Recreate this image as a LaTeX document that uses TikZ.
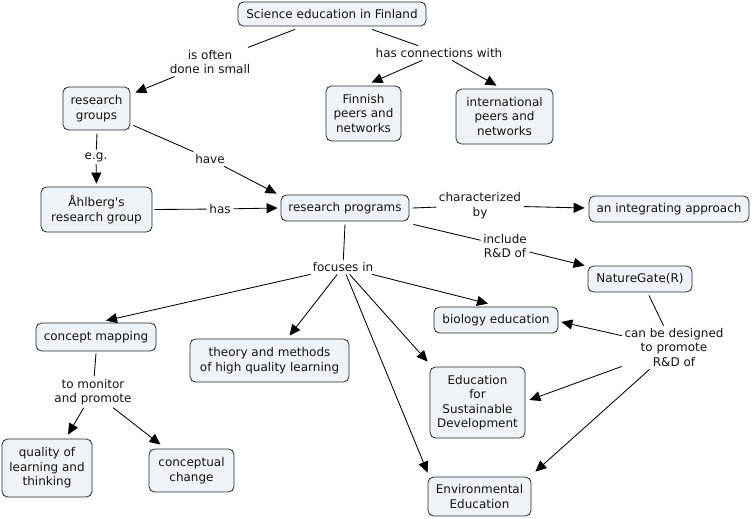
\documentclass[tikz,border=0pt]{standalone}
\usepackage{fontspec}
\setmainfont[Ligatures=TeXOff]{DejaVu Sans}
\usetikzlibrary{arrows.meta}
\definecolor{boxfill}{RGB}{237,243,246}
\definecolor{boxline}{RGB}{40,40,40}
\definecolor{txt}{RGB}{20,20,20}
\begin{document}
\begin{tikzpicture}[x=1pt,y=-1pt,
  every node/.style={font=\fontsize{12}{14.5}\selectfont,text=txt,align=center},
  concept/.style={draw=boxline,fill=boxfill,line width=0.8pt,rounded corners=5.5pt,inner sep=0pt},
  lab/.style={inner sep=2.5pt},
  conn/.style={line width=0.85pt,draw=black},
  arr/.style={conn,-{Triangle[length=11pt,width=10pt]}}]
\useasboundingbox[fill=white] (0,0) rectangle (752,519);
% concepts
\node[concept,minimum width=188pt,minimum height=24pt] (sci) at (332,14) {Science education in Finland};
\node[concept,minimum width=67pt,minimum height=43pt] (rg) at (96.5,108.5) {research\\groups};
\node[concept,minimum width=75pt,minimum height=55pt] (fin) at (363.5,113.5) {Finnish\\peers and\\networks};
\node[concept,minimum width=97pt,minimum height=55pt] (intl) at (504.5,116.5) {international\\peers and\\networks};
\node[concept,minimum width=111pt,minimum height=45pt] (ahl) at (96.5,209.5) {Åhlberg's\\research group};
\node[concept,minimum width=128pt,minimum height=26pt] (rp) at (345,208) {research programs};
\node[concept,minimum width=160pt,minimum height=26pt] (appr) at (669,209) {an integrating approach};
\node[concept,minimum width=104pt,minimum height=26pt] (ng) at (640,279) {NatureGate(R)};
\node[concept,minimum width=124pt,minimum height=26pt] (bio) at (496,320) {biology education};
\node[concept,minimum width=95pt,minimum height=71pt] (esd) at (477.5,402.5) {Education\\for\\Sustainable\\Development};
\node[concept,minimum width=103pt,minimum height=39pt] (env) at (479.5,496.5) {Environmental\\Education};
\node[concept,minimum width=120pt,minimum height=28pt] (cm) at (96,337) {concept mapping};
\node[concept,minimum width=159pt,minimum height=43pt] (theory) at (269.5,360.5) {theory and methods\\of high quality learning};
\node[concept,minimum width=90pt,minimum height=58pt] (qual) at (47,468) {quality of\\learning and\\thinking};
\node[concept,minimum width=85pt,minimum height=43pt] (cc) at (191.5,470.5) {conceptual\\change};
% linking phrases
\node[lab] (l1) at (210,62) {is often\\done in small};
\node[lab] (l2) at (439,53) {has connections with};
\node[lab] (l3) at (96,157) {e.g.};
\node[lab] (l4) at (210,159) {have};
\node[lab] (l5) at (220,209) {has};
\node[lab] (l6) at (480,205.5) {characterized\\by};
\node[lab] (l7) at (505,246) {include\\R\&D of};
\node[lab] (l8) at (343,267) {focuses in};
\node[lab] (l9) at (674,347.5) {can be designed\\to promote\\R\&D of};
\node[lab] (l10) at (93,392) {to monitor\\and promote};
% source -> phrase
\draw[conn] ([shift={(-37,3)}]sci.south) -- (l1);
\draw[conn] ([shift={(40,3)}]sci.south) -- (l2);
\draw[conn] ([shift={(0.5,3)}]rg.south) -- (l3);
\draw[conn] ([shift={(3,-5)}]rg.south east) -- (l4);
\draw[conn] ([shift={(2,0)}]ahl.east) -- (l5);
\draw[conn] ([shift={(3,0)}]rp.east) -- (l6);
\draw[conn] ([shift={(4,3)}]rp.south east) -- (l7);
\draw[conn] ([shift={(0,3)}]rp.south) -- (l8);
\draw[conn] ([shift={(9,3)}]ng.south) -- (l9);
\draw[conn] ([shift={(0,2)}]cm.south) -- (l10);
% phrase -> target
\draw[arr] (l1) -- ([shift={(5,6)}]rg.north east);
\draw[arr] (l2) -- ([shift={(8,-3)}]fin.north);
\draw[arr] (l2) -- ([shift={(-8,-3)}]intl.north);
\draw[arr] (l3) -- ([shift={(0,-3)}]ahl.north);
\draw[arr] (l4) -- ([shift={(-4,-1)}]rp.north west);
\draw[arr] (l5) -- ([shift={(-3,0)}]rp.west);
\draw[arr] (l6) -- ([shift={(-4,-1)}]appr.west);
\draw[arr] (l7) -- ([shift={(-3,0)}]ng.north west);
\draw[arr] (l8) -- ([shift={(10,-2)}]cm.north);
\draw[arr] (l8) -- ([shift={(20,-3)}]theory.north);
\draw[arr] (l8) -- ([shift={(-8,-3)}]bio.north);
\draw[arr] (l8) -- ([shift={(-2,-5)}]esd.north west);
\draw[arr] (l8) -- ([shift={(0,-4)}]env.north west);
\draw[arr] (l9) -- ([shift={(3,2)}]bio.east);
\draw[arr] (l9) -- ([shift={(4,-2.5)}]esd.east);
\draw[arr] (l9) -- ([shift={(4,-5)}]env.north east);
\draw[arr] (l10) -- ([shift={(21,-4)}]qual.north);
\draw[arr] (l10) -- ([shift={(-31,-4)}]cc.north);
\end{tikzpicture}
\end{document}
